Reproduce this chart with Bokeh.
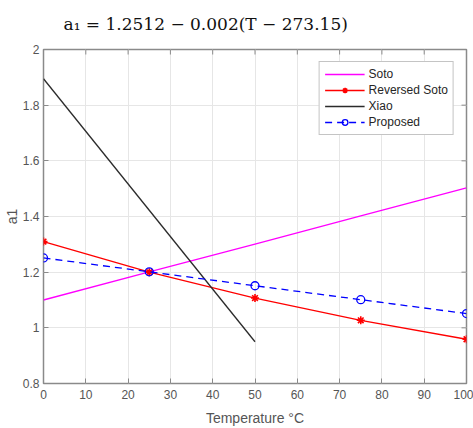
import math
from bokeh.plotting import figure
from bokeh.models import Legend, LegendItem, FixedTicker, Range1d, Title
from bokeh.embed import file_html
from bokeh.resources import INLINE

# Temperature in degrees Celsius
temp = [0, 25, 50, 75, 100]
soto = [1.100, 1.201, 1.301, 1.402, 1.503]
reversed_soto = [1.310, 1.200, 1.107, 1.027, 0.959]
xiao_temp = [0, 50]
xiao = [1.895, 0.950]
proposed = [1.2512, 1.2012, 1.1512, 1.1012, 1.0512]

x_ticks = [0, 10, 20, 30, 40, 50, 60, 70, 80, 90, 100]
y_ticks = [0.8, 1.0, 1.2, 1.4, 1.6, 1.8, 2.0]
x_min, x_max = 0, 100
y_min, y_max = 0.8, 2.0

FONT = "Liberation Sans"
TICK_COLOR = "#555555"
BOX_COLOR = "#8a8a8a"

p = figure(width=473, height=428, output_backend="svg", toolbar_location=None,
           x_range=Range1d(x_min, x_max), y_range=Range1d(y_min, y_max),
           min_border_left=42, min_border_right=7, min_border_top=49,
           min_border_bottom=45)

p.title.visible = False

# Equation heading above the axes box
heading = Title(text="a\u2081 = 1.2512 \u2212 0.002(T \u2212 273.15)",
                text_font="DejaVu Serif", text_font_size="17px",
                text_font_style="normal", text_color="#111111",
                align="left", vertical_align="top", offset=20, standoff=27)
p.add_layout(heading, "above")

p.background_fill_color = "white"
p.border_fill_color = "white"
p.outline_line_color = BOX_COLOR
p.outline_line_width = 1.5

p.xgrid.grid_line_color = "#e6e6e6"
p.ygrid.grid_line_color = "#e6e6e6"
p.xaxis.ticker = FixedTicker(ticks=x_ticks)
p.yaxis.ticker = FixedTicker(ticks=y_ticks)
p.yaxis.major_label_overrides = {0.8: "0.8", 1.0: "1", 1.2: "1.2", 1.4: "1.4",
                                 1.6: "1.6", 1.8: "1.8", 2.0: "2"}

p.xaxis.axis_label = "Temperature \u00b0C"
p.yaxis.axis_label = "a1"

for ax in (p.xaxis[0], p.yaxis[0]):
    ax.axis_line_color = None
    ax.major_tick_in = 5
    ax.major_tick_out = 0
    ax.major_tick_line_color = BOX_COLOR
    ax.minor_tick_line_color = None
    ax.major_label_text_font = FONT
    ax.major_label_text_font_size = "12px"
    ax.major_label_text_color = TICK_COLOR
    ax.axis_label_text_font = FONT
    ax.axis_label_text_font_size = "14px"
    ax.axis_label_text_font_style = "normal"
    ax.axis_label_text_color = TICK_COLOR
p.xaxis.major_label_standoff = 6
p.xaxis.axis_label_standoff = 8
p.yaxis.major_label_standoff = 4
p.yaxis.axis_label_standoff = 0

# Inward tick marks on the top and right edges of the box
p.ray(x=x_ticks, y=[y_max] * len(x_ticks), length=5, length_units="screen",
      angle=-math.pi / 2, line_color=BOX_COLOR, line_width=1)
p.ray(x=[x_max] * len(y_ticks), y=y_ticks, length=5, length_units="screen",
      angle=math.pi, line_color=BOX_COLOR, line_width=1)

r_soto = p.line(temp, soto, line_color="#ff00ff", line_width=1.3)
r_rev = p.line(temp, reversed_soto, line_color="#ff0000", line_width=1.3)
r_rev_m = p.scatter(temp, reversed_soto, marker="asterisk", size=8,
                    line_color="#ff0000", line_width=1.6)
r_xiao = p.line(xiao_temp, xiao, line_color="#2b2b2b", line_width=1.3)
r_prop = p.line(temp, proposed, line_color="#0000ff", line_width=1.3,
                line_dash="7 5")
r_prop_m = p.scatter(temp, proposed, marker="circle", size=8,
                     line_color="#0000ff", fill_color=None, line_width=1.3)

legend = Legend(items=[
    LegendItem(label="Soto", renderers=[r_soto]),
    LegendItem(label="Reversed Soto", renderers=[r_rev, r_rev_m]),
    LegendItem(label="Xiao", renderers=[r_xiao]),
    LegendItem(label="Proposed", renderers=[r_prop, r_prop_m]),
], location="top_right")
legend.margin = 12
legend.padding = 5
legend.spacing = 2
legend.glyph_width = 40
legend.glyph_height = 14
legend.label_height = 14
legend.label_standoff = 4
legend.label_text_font = FONT
legend.label_text_font_size = "12px"
legend.label_text_color = "#262626"
legend.border_line_color = "#8a8a8a"
legend.border_line_width = 1
legend.background_fill_alpha = 1
p.add_layout(legend)

open("out.html", "w").write(file_html(p, INLINE))
